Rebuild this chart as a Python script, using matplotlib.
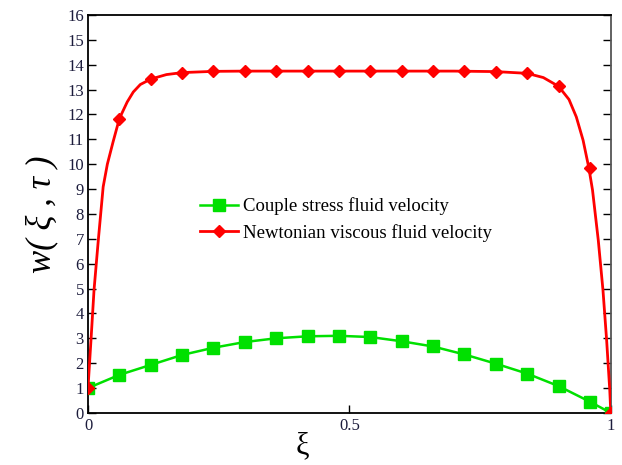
import numpy as np
import matplotlib.pyplot as plt

# marker positions
xi_marks = [0, 0.06, 0.12, 0.18, 0.24, 0.30, 0.36, 0.42, 0.48, 0.54,
            0.60, 0.66, 0.72, 0.78, 0.84, 0.90, 0.96, 1.0]
couple_marks = [1.0, 1.53, 1.93, 2.33, 2.62, 2.85, 3.0, 3.08, 3.1, 3.05,
                2.88, 2.67, 2.35, 1.98, 1.58, 1.08, 0.45, 0.0]
newton_marks = [1.0, 11.83, 13.42, 13.68, 13.73, 13.74, 13.74, 13.74, 13.74, 13.74,
                13.74, 13.74, 13.74, 13.72, 13.65, 13.13, 9.85, 0.0]

# extra points on the steep parts of the newtonian curve
xi_newton_line = [0, 0.0025, 0.0057, 0.0115, 0.0197, 0.029, 0.037, 0.048, 0.06, 0.075,
                  0.0866, 0.10, 0.12, 0.15, 0.18, 0.24, 0.30, 0.40, 0.50, 0.60,
                  0.70, 0.78, 0.84, 0.871, 0.90, 0.92, 0.934, 0.947, 0.958, 0.965,
                  0.976, 0.985, 0.992, 0.998, 1.0]
newton_line = [1.0, 1.86, 2.93, 4.94, 6.95, 9.09, 10.0, 10.9, 11.83, 12.5,
               12.9, 13.2, 13.42, 13.6, 13.68, 13.73, 13.74, 13.74, 13.74, 13.74,
               13.74, 13.72, 13.65, 13.48, 13.13, 12.6, 11.9, 10.96, 9.85, 8.96,
               6.95, 4.94, 2.93, 0.92, 0.0]

plt.close("all")
plt.rcParams['font.family'] = ['Liberation Serif', 'DejaVu Serif']
fig = plt.figure(figsize=(6.22, 4.65), dpi=100)
ax = fig.add_axes([0.1415, 0.112, 0.8405, 0.856])

ax.plot(xi_marks, couple_marks, color='#00e000', lw=1.8, marker='s', ms=8,
        label='Couple stress fluid velocity', zorder=3)
ax.plot(xi_newton_line, newton_line, color='#ff0000', lw=2, zorder=4)
ax.plot(xi_marks, newton_marks, color='#ff0000', lw=0, marker='D', ms=6.5, zorder=4)
# legend proxy for the red curve
ax.plot([], [], color='#ff0000', lw=2, marker='D', ms=6,
        label='Newtonian viscous fluid velocity')

ax.set_xlim(0, 1)
ax.set_ylim(0, 16)
ax.set_yticks(range(0, 17))
ax.set_xticks([0, 0.5, 1])
ax.set_xticklabels(['0', '0.5', '1'])
ax.tick_params(axis='y', direction='in', length=6, width=1, left=True, right=True,
               labelsize=12, labelcolor='#1c1c3c', pad=3)
ax.tick_params(axis='x', direction='in', length=6, width=1,
               labelsize=12, labelcolor='#1c1c3c', pad=4)
for s in ax.spines.values():
    s.set_linewidth(1.3)
ax.spines['right'].set_color('#555555')

ax.set_ylabel('w( ξ , τ )', fontsize=25, style='italic', labelpad=6)
ax.set_xlabel('ξ', fontsize=22)
ax.xaxis.set_label_coords(0.41, -0.045)

ax.legend(loc='upper left', bbox_to_anchor=(0.2, 0.56), frameon=False,
          fontsize=13.5, handlelength=2.0, handletextpad=0.3, labelspacing=0.45,
          borderaxespad=0)

fig.savefig('out.png', dpi=100)
